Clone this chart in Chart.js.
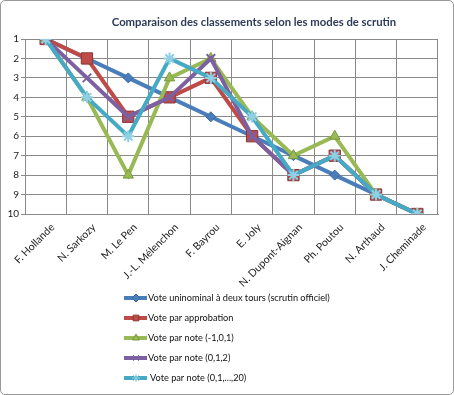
<!DOCTYPE html>
<html>
<head>
<meta charset="utf-8">
<script src="https://cdn.jsdelivr.net/npm/chart.js@4/dist/chart.umd.min.js"></script>
<style>
  html, body { margin: 0; padding: 0; background: #fff; }
  #wrap {
    position: relative;
    width: 452px; height: 393px;
    border: 1px solid #9a9a9a;
    border-radius: 5px;
    overflow: hidden;
  }
  canvas { position: absolute; left: -1px; top: -1px; }
</style>
</head>
<body>
<div id="wrap"><canvas id="rankChart" width="454" height="395"></canvas></div>
<script>
const chartTitle = 'Comparaison des classements selon les modes de scrutin';
const candidates = ['F. Hollande', 'N. Sarkozy', 'M. Le Pen', 'J.-L. Mélenchon', 'F. Bayrou',
    'E. Joly', 'N. Dupont-Aignan', 'Ph. Poutou', 'N. Arthaud', 'J. Cheminade'];
const seriesNames = [
    'Vote uninominal à deux tours (scrutin officiel)',
    'Vote par approbation',
    'Vote par note (-1,0,1)',
    'Vote par note (0,1,2)',
    'Vote par note (0,1,...,20)'
];
const rankOfficial = [1, 2, 3, 4, 5, 6, 7, 8, 9, 10];
const rankApproval = [1, 2, 5, 4, 3, 6, 8, 7, 9, 10];
const rankNote101 = [1, 4, 8, 3, 2, 5, 7, 6, 9, 10];
const rankNote012 = [1, 3, 5, 4, 2, 6, 8, 7, 9, 10];
const rankNote020 = [1, 4, 6, 2, 3, 5, 8, 7, 9, 10];
const rankTicks = [1, 2, 3, 4, 5, 6, 7, 8, 9, 10];

// Excel 2008 style colours and markers
const styles = [
    { color: '#4a7ebb', border: '#3a6aa5', marker: 'rectRot', radius: 5 },
    { color: '#be4b48', border: '#8c3836', marker: 'rect', radius: 8 },
    { color: '#98b954', border: '#7a9a3e', marker: 'triangle', radius: 6 },
    { color: '#7d60a0', border: '#7d60a0', marker: 'crossRot', radius: 6 },
    { color: '#46aac5', border: '#8fd0e4', marker: 'star', radius: 6 }
];
const allRanks = [rankOfficial, rankApproval, rankNote101, rankNote012, rankNote020];

const datasets = allRanks.map((ranks, i) => ({
    label: seriesNames[i],
    data: ranks,
    borderColor: styles[i].color,
    backgroundColor: styles[i].color,
    borderWidth: 4,
    pointStyle: styles[i].marker,
    pointRadius: styles[i].radius,
    pointHoverRadius: styles[i].radius,
    pointBackgroundColor: styles[i].color,
    pointBorderColor: styles[i].border,
    pointBorderWidth: (i >= 3) ? 2 : 1,
    tension: 0,
    order: allRanks.length - i
}));

// title + vertical legend drawn by hand (Excel puts them off-centre)
const decorPlugin = {
    id: 'decor',
    afterDraw(chart) {
        const ctx = chart.ctx;
        ctx.save();
        ctx.fillStyle = '#2c3b57';
        ctx.font = 'bold 11.3px Lato, "Open Sans", sans-serif';
        ctx.textAlign = 'center';
        ctx.textBaseline = 'middle';
        ctx.fillText(chartTitle, 254, 22);

        ctx.font = '9.2px Lato, "Open Sans", sans-serif';
        ctx.textAlign = 'left';
        chart.data.datasets.forEach((ds, i) => {
            const y = 298 + i * 20;
            ctx.strokeStyle = ds.borderColor;
            ctx.lineWidth = 4;
            ctx.beginPath();
            ctx.moveTo(124, y);
            ctx.lineTo(147, y);
            ctx.stroke();
            ctx.fillStyle = ds.pointBackgroundColor;
            ctx.strokeStyle = ds.pointBorderColor;
            ctx.lineWidth = 1;
            Chart.helpers.drawPoint(ctx, {
                pointStyle: ds.pointStyle,
                radius: Math.min(ds.pointRadius, 4),
                borderWidth: 1,
                rotation: 0
            }, 136, y);
            ctx.fillStyle = '#111';
            ctx.fillText(ds.label, i === 4 ? 150 : 148, y);
        });
        ctx.restore();
    }
};

new Chart(document.getElementById('rankChart'), {
    type: 'line',
    data: { labels: candidates, datasets: datasets },
    options: {
        responsive: false,
        animation: false,
        layout: { padding: { top: 39, left: 4, right: 16, bottom: 101 } },
        plugins: {
            legend: { display: false },
            title: { display: false },
            tooltip: { enabled: false }
        },
        scales: {
            x: {
                offset: true,
                grid: { offset: true, color: '#8a8a8a', lineWidth: 1, drawTicks: false },
                border: { color: '#8a8a8a' },
                ticks: {
                    minRotation: 45, maxRotation: 45,
                    color: '#222',
                    padding: 7,
                    labelOffset: 7,
                    font: { size: 10.5, family: 'Lato, "Open Sans", sans-serif' }
                },
                afterFit(scale) { scale.height = 80; }
            },
            y: {
                reverse: true,
                min: 1, max: 10,
                afterBuildTicks(scale) { scale.ticks = rankTicks.map(v => ({ value: v })); },
                grid: { color: '#8a8a8a', lineWidth: 1, tickLength: 4 },
                border: { color: '#8a8a8a' },
                ticks: {
                    color: '#222',
                    padding: 2,
                    font: { size: 10, family: 'Lato, "Open Sans", sans-serif' }
                },
                afterFit(scale) { scale.width = 21; }
            }
        }
    },
    plugins: [decorPlugin]
});
</script>
</body>
</html>
